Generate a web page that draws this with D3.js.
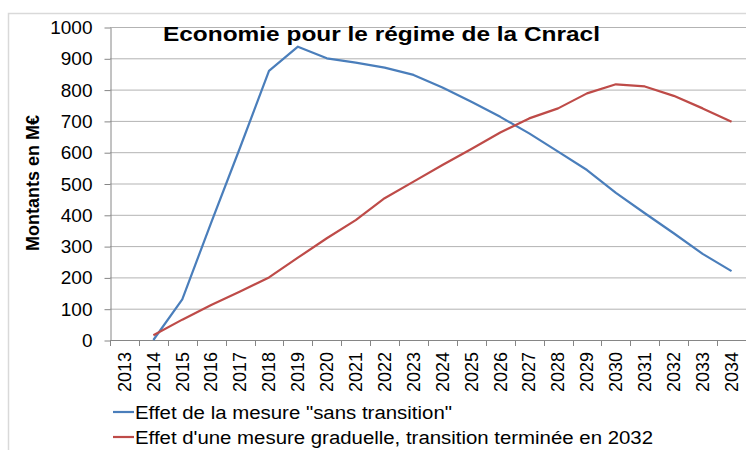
<!DOCTYPE html>
<html>
<head>
  <meta charset="utf-8">
  <script src="https://cdn.jsdelivr.net/npm/d3@7"></script>
  <style>
    body { margin: 0; background: #fff; }
    text { font-family: "Liberation Sans", Arial, sans-serif; fill: #000; }
  </style>
</head>
<body>
<script>
  // Years on the x axis
  var years = ["2013", "2014", "2015", "2016", "2017", "2018", "2019", "2020", "2021", "2022", "2023",
               "2024", "2025", "2026", "2027", "2028", "2029", "2030", "2031", "2032", "2033", "2034"];

  // Effet de la mesure "sans transition"
  var sansTransition = [null, 0, 130, 375, 615, 860, 937, 900, 886, 870, 847,
                        807, 761, 713, 660, 602, 543, 470, 405, 341, 275, 220];

  // Effet d'une mesure graduelle
  var graduelle = [null, 15, 65, 112, 155, 200, 263, 325, 383, 453, 506,
                   559, 610, 663, 708, 740, 788, 817, 810, 780, 740, 697];

  var yTicks = [0, 100, 200, 300, 400, 500, 600, 700, 800, 900, 1000];

  var seriesNames = ["Effet de la mesure \"sans transition\"",
                     "Effet d'une mesure graduelle, transition terminée en 2032"];
  var colors = ["#4a7ebb", "#be4b48"];

  var width = 746, height = 450;

  var svg = d3.select("body").append("svg")
      .attr("width", width)
      .attr("height", height);

  // outer chart frame (cropped on the right and bottom)
  svg.append("rect")
      .attr("x", 8.5).attr("y", 13.5)
      .attr("width", 800).attr("height", 500)
      .attr("fill", "none")
      .attr("stroke", "#d9d9d9")
      .attr("stroke-width", 1.5);

  var x = d3.scaleBand().domain(years).range([110, 746]).padding(0);
  var y = d3.scaleLinear().domain([0, 1000]).range([340, 27]);

  // gridlines
  svg.append("g").selectAll("line")
      .data(yTicks.filter(function(d) { return d > 0; }))
      .enter().append("line")
      .attr("x1", 110).attr("x2", 746)
      .attr("y1", function(d) { return y(d) + 0.5; })
      .attr("y2", function(d) { return y(d) + 0.5; })
      .attr("stroke", "#b3b3b3")
      .attr("stroke-width", 1);

  // y axis
  var yAxis = svg.append("g")
      .attr("transform", "translate(110.5,0.5)")
      .call(d3.axisLeft(y).tickValues(yTicks).tickFormat(d3.format("d"))
              .tickSize(6).tickSizeOuter(0).tickPadding(12));
  yAxis.select(".domain").attr("stroke", "#868686");
  yAxis.selectAll(".tick line").attr("stroke", "#868686");
  yAxis.selectAll(".tick text")
      .style("font-size", "19px")
      .style("font-family", "'Liberation Sans', Arial, sans-serif")
      .attr("fill", "#000");

  // x axis baseline and ticks at the band boundaries
  svg.append("line")
      .attr("x1", 110).attr("x2", 746)
      .attr("y1", 340.5).attr("y2", 340.5)
      .attr("stroke", "#868686");

  var bounds = years.map(function(d) { return x(d); }).concat([x(years[years.length - 1]) + x.bandwidth()]);
  svg.append("g").selectAll("line")
      .data(bounds)
      .enter().append("line")
      .attr("x1", function(d) { return Math.round(d) + 0.5; })
      .attr("x2", function(d) { return Math.round(d) + 0.5; })
      .attr("y1", 340).attr("y2", 346)
      .attr("stroke", "#868686");

  svg.append("g").selectAll("text")
      .data(years)
      .enter().append("text")
      .attr("transform", function(d) {
        return "translate(" + (x(d) + x.bandwidth() / 2) + ",352) rotate(-90)";
      })
      .attr("dy", "0.35em")
      .attr("text-anchor", "end")
      .style("font-size", "18px")
      .text(function(d) { return d; });

  // lines
  var line = d3.line()
      .defined(function(d) { return d.v !== null; })
      .x(function(d) { return x(d.year) + x.bandwidth() / 2; })
      .y(function(d) { return y(d.v); });

  [sansTransition, graduelle].forEach(function(vals, i) {
    var pts = years.map(function(yr, j) { return { year: yr, v: vals[j] }; });
    svg.append("path")
        .datum(pts)
        .attr("fill", "none")
        .attr("stroke", colors[i])
        .attr("stroke-width", 2.2)
        .attr("stroke-linejoin", "round")
        .attr("d", line);
  });

  // title
  svg.append("text")
      .attr("x", 163).attr("y", 41)
      .attr("textLength", 437)
      .attr("lengthAdjust", "spacingAndGlyphs")
      .style("font-size", "20px")
      .style("font-weight", "bold")
      .text("Economie pour le régime de la Cnracl");

  // y axis title
  svg.append("text")
      .attr("transform", "translate(39,183) rotate(-90)")
      .attr("text-anchor", "middle")
      .style("font-size", "18px")
      .style("font-weight", "bold")
      .text("Montants en M€");

  // legend
  var legend = svg.append("g").selectAll("g")
      .data(seriesNames)
      .enter().append("g")
      .attr("transform", function(d, i) { return "translate(0," + (412 + i * 25) + ")"; });
  legend.append("line")
      .attr("x1", 113).attr("x2", 134)
      .attr("stroke", function(d, i) { return colors[i]; })
      .attr("stroke-width", 2.2);
  legend.append("text")
      .attr("x", 135).attr("y", 6.5)
      .attr("textLength", function(d, i) { return i === 0 ? 317 : 518; })
      .attr("lengthAdjust", "spacingAndGlyphs")
      .style("font-size", "18px")
      .text(function(d) { return d; });
</script>
</body>
</html>
